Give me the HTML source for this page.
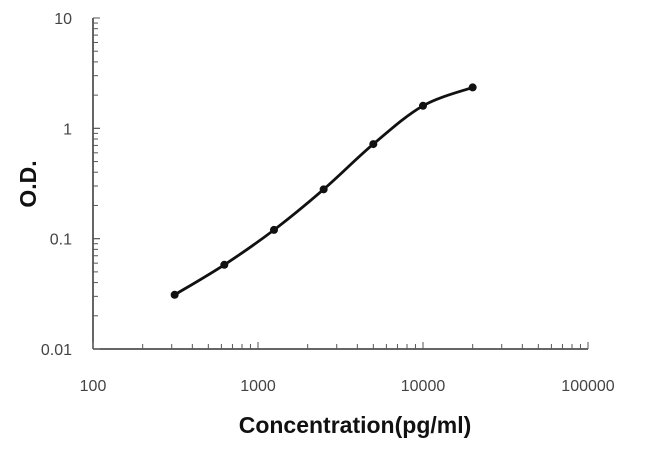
<!DOCTYPE html>
<html><head><meta charset="utf-8"><style>
body{margin:0;background:#fff;}
svg{display:block;font-family:"Liberation Sans",sans-serif;}
</style></head><body>
<svg id="chart" width="650" height="458"></svg>
<script>
const concentrations=[312.5,625,1250,2500,5000,10000,20000];
const odValues=[0.031,0.058,0.12,0.28,0.72,1.6,2.35];
const xTickLabels=["100","1000","10000","100000"];
const yTickLabels=["0.01","0.1","1","10"];
const NS="http://www.w3.org/2000/svg";
const svg=document.getElementById('chart');
const X0=93,X1=588,Y0=349,Y1=18;
function xs(v){return X0+(Math.log10(v)-2)/3*(X1-X0);}
function ys(v){return Y0-(Math.log10(v)+2)/3*(Y0-Y1);}
function mk(t,a,p){const e=document.createElementNS(NS,t);for(const k in a)e.setAttribute(k,a[k]);(p||svg).appendChild(e);return e;}
const ax=mk('g',{});


mk('line',{x1:X0,y1:Y1,x2:X0,y2:Y0,stroke:'#333','stroke-width':1.5},ax);
mk('line',{x1:X0,y1:Y0,x2:X1,y2:Y0,stroke:'#333','stroke-width':1.5},ax);
for(let d=-2;d<1;d++)for(let m=1;m<=10;m++){const v=m*Math.pow(10,d);const y=ys(v);mk('line',{x1:X0,y1:y,x2:X0+(m==1||m==10?7:5),y2:y,stroke:'#555','stroke-width':1},ax);}
for(let d=2;d<5;d++)for(let m=1;m<=10;m++){const v=m*Math.pow(10,d);const x=xs(v);mk('line',{x1:x,y1:Y0,x2:x,y2:Y0-(m==1||m==10?7:5),stroke:'#555','stroke-width':1},ax);}
xTickLabels.forEach(l=>{const t=mk('text',{x:xs(+l),y:391,'text-anchor':'middle','font-size':16,fill:'#444'});t.textContent=l;});
yTickLabels.forEach(l=>{const t=mk('text',{x:72,y:ys(+l)+6,'text-anchor':'end','font-size':16,fill:'#444'});t.textContent=l;});
const xt=mk('text',{x:355,y:433,'text-anchor':'middle','font-size':23,'font-weight':'bold',fill:'#111'});xt.textContent='Concentration(pg/ml)';

const yt=mk('text',{x:0,y:0,'text-anchor':'middle','font-size':23,'font-weight':'bold',fill:'#111',transform:'translate(36,184) rotate(-90)'});yt.textContent='O.D.';

const pts=concentrations.map((c,i)=>[xs(c),ys(odValues[i])]);
let d='M'+pts[0][0]+','+pts[0][1];
for(let i=0;i<pts.length-1;i++){const p0=pts[i-1]||pts[i],p1=pts[i],p2=pts[i+1],p3=pts[i+2]||p2;
d+=' C'+(p1[0]+(p2[0]-p0[0])/6)+','+(p1[1]+(p2[1]-p0[1])/6)+' '+(p2[0]-(p3[0]-p1[0])/6)+','+(p2[1]-(p3[1]-p1[1])/6)+' '+p2[0]+','+p2[1];}
const line=mk('path',{d:d,fill:'none',stroke:'#111','stroke-width':2.8});

pts.forEach(p=>{const c=mk('circle',{cx:p[0],cy:p[1],r:4,fill:'#111'});});
</script>
</body></html>
